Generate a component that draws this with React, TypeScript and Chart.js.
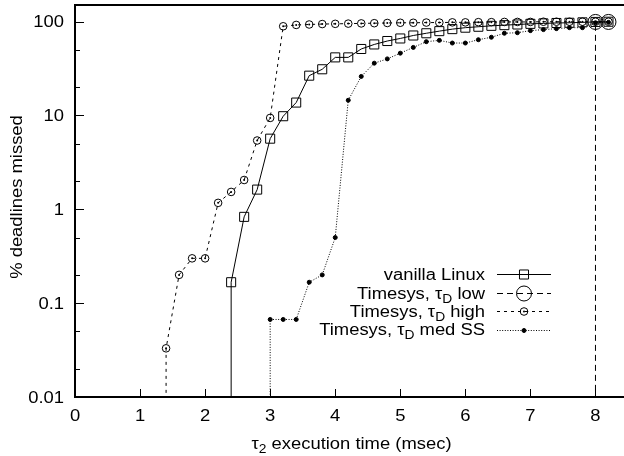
import React, { useEffect, useRef } from "react";
import { Chart, registerables } from "chart.js";
import { drawPoint } from "chart.js/helpers";

Chart.register(...registerables);

// ---------- data ----------
const xTicks = [0, 1, 2, 3, 4, 5, 6, 7, 8];
const xTickLabels = ["0", "1", "2", "3", "4", "5", "6", "7", "8"];
const yMajorTicks = [0.01, 0.1, 1, 10, 100];
const yTickLabels = ["0.01", "0.1", "1", "10", "100"];
const yMinorTicks = [0.02, 0.05, 0.2, 0.5, 2, 5, 20, 50];

const xTitle = "τ_2 execution time (msec)";
const yTitle = "% deadlines missed";

const seriesNames = [
  "vanilla Linux",
  "Timesys, τ_D low",
  "Timesys, τ_D high",
  "Timesys, τ_D med SS",
];

// first point of each series lies below the axis (drop line to the bottom)
const vanillaX = [2.4, 2.4, 2.6, 2.8, 3.0, 3.2, 3.4, 3.6, 3.8, 4.0, 4.2, 4.4, 4.6, 4.8, 5.0, 5.2, 5.4, 5.6, 5.8, 6.0, 6.2, 6.4, 6.6, 6.8, 7.0, 7.2, 7.4, 7.6, 7.8, 8.0, 8.2];
const vanillaY = [0.001, 0.167, 0.83, 1.62, 5.65, 9.8, 13.7, 26.5, 31, 41.5, 41.5, 51, 57, 62, 66, 71, 75, 79, 83, 86, 88, 90, 91.5, 93, 94.5, 95.5, 96.5, 97, 98, 99, 99.5];

const lowX = [8.0, 8.0, 8.2];
const lowY = [0.001, 99, 99];

const highX = [1.4, 1.4, 1.6, 1.8, 2.0, 2.2, 2.4, 2.6, 2.8, 3.0, 3.2, 3.4, 3.6, 3.8, 4.0, 4.2, 4.4, 4.6, 4.8, 5.0, 5.2, 5.4, 5.6, 5.8, 6.0, 6.2, 6.4, 6.6, 6.8, 7.0, 7.2, 7.4, 7.6, 7.8, 8.0, 8.2];
const highY = [0.001, 0.033, 0.2, 0.3, 0.3, 1.17, 1.53, 2.05, 5.4, 9.4, 89, 92, 93, 94, 94.5, 95, 95.5, 96, 96.5, 97, 97, 97.5, 97.5, 98, 98, 98.5, 98.5, 99, 99, 99, 99.5, 99.5, 99.5, 99.5, 99.5, 99.5];

const medX = [3.0, 3.0, 3.2, 3.4, 3.6, 3.8, 4.0, 4.2, 4.4, 4.6, 4.8, 5.0, 5.2, 5.4, 5.6, 5.8, 6.0, 6.2, 6.4, 6.6, 6.8, 7.0, 7.2, 7.4, 7.6, 7.8, 8.0, 8.2];
const medY = [0.001, 0.067, 0.067, 0.067, 0.167, 0.2, 0.5, 14.5, 26, 36, 40, 46, 53, 61, 63, 59, 59, 64, 68, 75, 76, 80, 82, 84, 86, 86, 97, 98];

// ---------- style ----------
const FONT = "'Liberation Sans', Arial, Helvetica, sans-serif";
const FS = 16;
const FS_SUB = 12;
const STRETCH = 1.15;

export default function App() {
  const ref = useRef<HTMLCanvasElement | null>(null);

  useEffect(() => {
    const canvas = ref.current!;

    const pts = (xs: number[], ys: number[]) => xs.map((x, i) => ({ x, y: ys[i] }));
    const rad = (r: number) => (c: any) => (c.raw && c.raw.y < 0.01 ? 0 : r);

    const styles = [
      { dash: [] as number[], pointStyle: "rect", radius: 6.4, fill: "rgba(0,0,0,0)", centerDot: false },
      { dash: [6, 4], pointStyle: "circle", radius: 7.5, fill: "rgba(0,0,0,0)", centerDot: false },
      { dash: [3, 4], pointStyle: "circle", radius: 3.8, fill: "rgba(0,0,0,0)", centerDot: true },
      { dash: [1, 1.6], pointStyle: "circle", radius: 2, fill: "#000", centerDot: false },
    ];
    const series = [pts(vanillaX, vanillaY), pts(lowX, lowY), pts(highX, highY), pts(medX, medY)];

    const datasets = series.map((d, i) => ({
      label: seriesNames[i],
      data: d,
      borderColor: "#000",
      borderWidth: 1,
      borderDash: styles[i].dash,
      backgroundColor: styles[i].fill,
      pointStyle: styles[i].pointStyle,
      pointRadius: rad(styles[i].radius),
      pointBorderColor: "#000",
      pointBackgroundColor: styles[i].fill,
      pointBorderWidth: 1,
      tension: 0,
      fill: false,
    }));

    const parseParts = (s: string) => {
      const parts: { t: string; sub: boolean }[] = [];
      const re = /_(.)/g;
      let last = 0;
      let mm: RegExpExecArray | null;
      while ((mm = re.exec(s))) {
        if (mm.index > last) parts.push({ t: s.slice(last, mm.index), sub: false });
        parts.push({ t: mm[1], sub: true });
        last = mm.index + 2;
      }
      if (last < s.length) parts.push({ t: s.slice(last), sub: false });
      return parts;
    };

    // draws text (with _x subscripts) horizontally stretched, anchored at (x, y) baseline
    const drawRich = (
      ctx: CanvasRenderingContext2D,
      s: string,
      x: number,
      y: number,
      align: "left" | "center" | "right",
      rot = 0
    ) => {
      const parts = parseParts(s);
      ctx.save();
      ctx.textBaseline = "alphabetic";
      ctx.textAlign = "left";
      ctx.fillStyle = "#000";
      const widths = parts.map((p) => {
        ctx.font = `${p.sub ? FS_SUB : FS}px ${FONT}`;
        return ctx.measureText(p.t).width;
      });
      const total = widths.reduce((a, b) => a + b, 0);
      ctx.translate(x, y);
      ctx.rotate(rot);
      ctx.scale(STRETCH, 1);
      let cx = align === "left" ? 0 : align === "center" ? -total / 2 : -total;
      parts.forEach((p, i) => {
        ctx.font = `${p.sub ? FS_SUB : FS}px ${FONT}`;
        ctx.fillText(p.t, cx, p.sub ? 4 : 0);
        cx += widths[i];
      });
      ctx.restore();
    };

    const dot = (ctx: CanvasRenderingContext2D, x: number, y: number) => {
      ctx.fillStyle = "#000";
      ctx.beginPath();
      ctx.arc(x, y, 1, 0, Math.PI * 2);
      ctx.fill();
    };

    const framePlugin = {
      id: "gpFrame",
      afterDatasetsDraw(chart: any) {
        const { ctx, chartArea } = chart;
        const xs = chart.scales.x;
        const ys = chart.scales.y;
        ctx.save();

        // centre dots of the small-circle markers
        chart.data.datasets.forEach((ds: any, i: number) => {
          if (!styles[i].centerDot) return;
          const meta = chart.getDatasetMeta(i);
          meta.data.forEach((p: any, j: number) => {
            if (ds.data[j].y >= 0.01) dot(ctx, p.x, p.y);
          });
        });

        ctx.strokeStyle = "#000";
        ctx.setLineDash([]);
        ctx.lineWidth = 1;
        // ticks (inward)
        ctx.beginPath();
        xTicks.forEach((v) => {
          const px = Math.round(xs.getPixelForValue(v)) + 0.5;
          ctx.moveTo(px, chartArea.bottom);
          ctx.lineTo(px, chartArea.bottom - 8);
        });
        yMajorTicks.forEach((v) => {
          const py = Math.round(ys.getPixelForValue(v)) + 0.5;
          ctx.moveTo(chartArea.left, py);
          ctx.lineTo(chartArea.left + 9, py);
        });
        yMinorTicks.forEach((v) => {
          const py = Math.round(ys.getPixelForValue(v)) + 0.5;
          ctx.moveTo(chartArea.left, py);
          ctx.lineTo(chartArea.left + 5, py);
        });
        ctx.stroke();
        // border: top, left, bottom
        ctx.lineWidth = 2;
        ctx.beginPath();
        ctx.moveTo(chartArea.right + 5, chartArea.top);
        ctx.lineTo(chartArea.left, chartArea.top);
        ctx.lineTo(chartArea.left, chartArea.bottom);
        ctx.lineTo(chartArea.right + 5, chartArea.bottom);
        ctx.stroke();

        // tick labels
        xTicks.forEach((v, i) => {
          drawRich(ctx, xTickLabels[i], xs.getPixelForValue(v), chartArea.bottom + 24, "center");
        });
        yMajorTicks.forEach((v, i) => {
          drawRich(ctx, yTickLabels[i], chartArea.left - 11, ys.getPixelForValue(v) + 5.8, "right");
        });

        // axis titles
        drawRich(ctx, xTitle, (chartArea.left + chartArea.right) / 2, 449, "center");
        drawRich(ctx, yTitle, 22, (chartArea.top + chartArea.bottom) / 2 - 4, "center", -Math.PI / 2);

        // legend
        const legRight = 485;
        const legY0 = 274.3;
        const legDy = 18.4;
        const sx0 = 497;
        const sx1 = 551;
        chart.data.datasets.forEach((ds: any, i: number) => {
          const y = legY0 + i * legDy;
          const ly = Math.round(y) + 0.5;
          const lx = (sx0 + sx1) / 2;
          drawRich(ctx, ds.label, legRight, y + 5.8, "right");
          ctx.strokeStyle = "#000";
          ctx.lineWidth = 1;
          ctx.setLineDash(ds.borderDash || []);
          ctx.beginPath();
          ctx.moveTo(sx0, ly);
          ctx.lineTo(sx1, ly);
          ctx.stroke();
          ctx.setLineDash([]);
          ctx.fillStyle = styles[i].fill;
          drawPoint(
            ctx,
            { pointStyle: styles[i].pointStyle, radius: styles[i].radius, rotation: 0, borderWidth: 1 } as any,
            lx,
            ly
          );
          if (styles[i].centerDot) dot(ctx, lx, ly);
        });
        ctx.restore();
      },
    };

    const zeroPad = (s: any) => {
      s.paddingTop = 0;
      s.paddingBottom = 0;
      s.paddingLeft = 0;
      s.paddingRight = 0;
    };

    const chart = new Chart(canvas, {
      type: "line",
      data: { datasets: datasets as any },
      options: {
        animation: false,
        responsive: false,
        devicePixelRatio: 1,
        layout: { autoPadding: false, padding: { top: 5, right: 0, left: 0, bottom: 0 } },
        plugins: { legend: { display: false }, tooltip: { enabled: false }, title: { display: false } },
        elements: { line: { borderCapStyle: "butt" } },
        scales: {
          x: {
            type: "linear",
            min: 0,
            max: 8.5,
            grid: { display: false, drawTicks: false },
            border: { display: false },
            afterBuildTicks: (s: any) => {
              s.ticks = xTicks.map((v) => ({ value: v }));
            },
            afterFit: (s: any) => {
              s.height = 59;
              zeroPad(s);
            },
            ticks: { display: false },
          },
          y: {
            type: "logarithmic",
            min: 0.01,
            max: 150,
            grid: { display: false, drawTicks: false },
            border: { display: false },
            afterBuildTicks: (s: any) => {
              s.ticks = yMajorTicks.map((v) => ({ value: v, major: true }));
            },
            afterFit: (s: any) => {
              s.width = 75;
              zeroPad(s);
            },
            ticks: { display: false },
          },
        },
      } as any,
      plugins: [framePlugin],
    });

    return () => chart.destroy();
  }, []);

  return (
    <div style={{ position: "absolute", left: 0, top: 0, width: 624, height: 456, overflow: "hidden", background: "#fff" }}>
      <canvas ref={ref} width={628} height={456} style={{ display: "block" }} />
    </div>
  );
}
